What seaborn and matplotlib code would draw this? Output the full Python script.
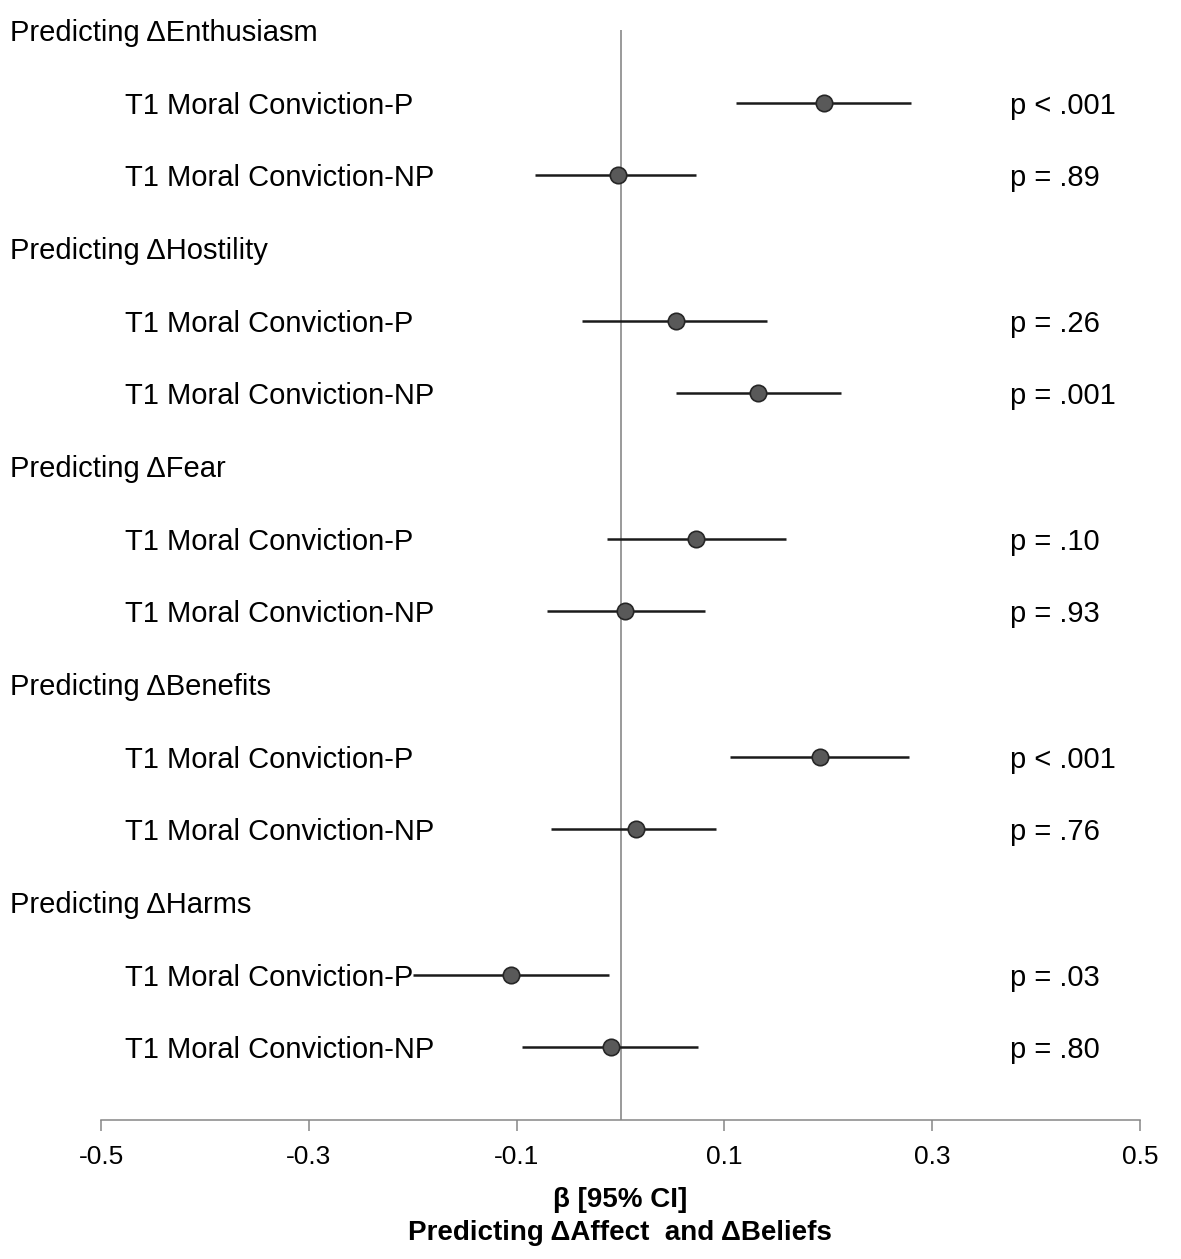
import pandas as pd
import matplotlib.pyplot as plt
import matplotlib.transforms as mtrans
import seaborn as sns

# values
outcomes = ['Enthusiasm', 'Hostility', 'Fear', 'Benefits', 'Harms']
predictors = ['T1 Moral Conviction-P', 'T1 Moral Conviction-NP']
beta = [0.196, -0.002, 0.053, 0.132, 0.073, 0.004, 0.192, 0.015, -0.105, -0.009]
ci_low = [0.111, -0.082, -0.037, 0.053, -0.013, -0.071, 0.105, -0.067, -0.200, -0.095]
ci_high = [0.280, 0.073, 0.141, 0.212, 0.159, 0.081, 0.278, 0.092, -0.011, 0.075]
p_labels = ['p < .001', 'p = .89', 'p = .26', 'p = .001', 'p = .10',
            'p = .93', 'p < .001', 'p = .76', 'p = .03', 'p = .80']
x_ticks = [-0.5, -0.3, -0.1, 0.1, 0.3, 0.5]

# one header row per outcome, then one row per predictor
rows = []
header_rows = []
r = 0
k = 0
for out in outcomes:
    header_rows.append((r, 'Predicting \u0394' + out))
    r += 1
    for pred in predictors:
        rows.append({'outcome': out, 'predictor': pred, 'row': r,
                     'beta': beta[k], 'lo': ci_low[k], 'hi': ci_high[k], 'p': p_labels[k]})
        r += 1
        k += 1
df = pd.DataFrame(rows)
n_rows = r

sns.set_style('white')
plt.rcParams['font.family'] = ['Liberation Sans', 'DejaVu Sans']
plt.rcParams['text.color'] = 'black'
plt.rcParams['xtick.color'] = '#868686'
plt.rcParams['xtick.labelcolor'] = 'black'

W, H = 1181, 1259
fig = plt.figure(figsize=(W / 100, H / 100), dpi=100)
ax = fig.add_axes([101 / W, (H - 1120) / H, (1140 - 101) / W, 1120 / H])

# zero reference line
ax.vlines(0, 0, n_rows, color='#7f7f7f', lw=1.1, zorder=1)

# confidence intervals
ax.hlines(df['row'], df['lo'], df['hi'], color='#1a1a1a', lw=1.8, zorder=2)

# point estimates
sns.scatterplot(data=df, x='beta', y='row', ax=ax, s=140, color='#595959',
                edgecolor='#262626', linewidth=1.2, zorder=3, legend=False)

ax.set_xlim(-0.5, 0.5)
ax.set_ylim(n_rows, -30 / 72.8)
ax.set_yticks([])
ax.set_xticks(x_ticks)
ax.set_xticklabels([f'{t:.1f}' for t in x_ticks], fontsize=19)
ax.tick_params(axis='x', bottom=True, direction='out', length=8, width=1.1,
               color='#868686', labelcolor='black', pad=10)
for s in ['top', 'left', 'right']:
    ax.spines[s].set_visible(False)
ax.spines['bottom'].set_color('#868686')
ax.spines['bottom'].set_linewidth(1.1)
ax.set_xlabel('')
ax.set_ylabel('')

# row labels in figure x, data y
tr = mtrans.blended_transform_factory(fig.transFigure, ax.transData)
for hr, txt in header_rows:
    ax.text(10 / W, hr, txt, transform=tr, fontsize=21, va='center_baseline',
            ha='left', color='black', clip_on=False)
for _, d in df.iterrows():
    ax.text(125 / W, d['row'], d['predictor'], transform=tr, fontsize=21,
            va='center_baseline', ha='left', color='black', clip_on=False)
    ax.text(1010 / W, d['row'], d['p'], transform=tr, fontsize=21,
            va='center_baseline', ha='left', color='black', clip_on=False)

fig.text(620 / W, 1 - 1200 / H, '\u03b2 [95% CI]', ha='center', va='center', fontsize=20,
         fontweight='bold', color='black')
fig.text(620 / W, 1 - 1233 / H, 'Predicting \u0394Affect  and \u0394Beliefs', ha='center', va='center',
         fontsize=20, fontweight='bold', color='black')

fig.savefig('out.png', dpi=100)
